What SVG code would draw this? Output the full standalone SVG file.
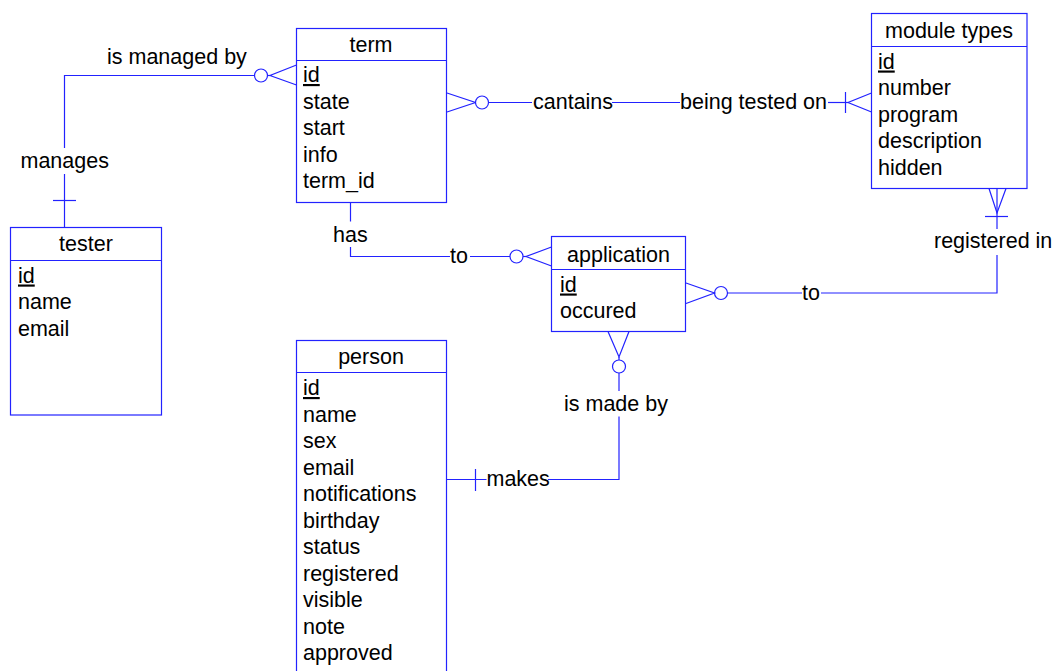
<svg xmlns="http://www.w3.org/2000/svg" width="1054" height="671" viewBox="0 0 1054 671">
  <style>
    .box { fill: #ffffff; stroke: #2222ff; stroke-width: 1.2; }
    .sep { stroke: #2222ff; stroke-width: 1.2; fill: none; }
    .ln { stroke: #2222ff; stroke-width: 1.2; fill: none; }
    .ring { stroke: #2222ff; stroke-width: 1.2; fill: #ffffff; }
    text { font-family: "Liberation Sans", Arial, sans-serif; font-size: 21.5px; fill: #000000; }
    .title { text-anchor: middle; }
    .key { text-decoration: underline; }
  </style>
  <rect width="1054" height="671" fill="#ffffff"/>

  <!-- relationship lines -->
  <g id="connectors">
    <!-- tester / term -->
    <polyline class="ln" points="64.5,148 64.5,75.5 254.5,75.5"/>
    <line class="ln" x1="64.5" y1="174" x2="64.5" y2="227.5"/>
    <line class="ln" x1="53" y1="200.5" x2="76" y2="200.5"/>
    <circle class="ring" cx="261" cy="75.5" r="6.5"/>
    <line class="ln" x1="267.5" y1="75.5" x2="270" y2="75.5"/>
    <polyline class="ln" points="296.5,65 270,75.5 296.5,85"/>
    <text x="107" y="63.5">is managed by</text>
    <text x="20.5" y="168">manages</text>

    <!-- term / module types -->
    <polyline class="ln" points="447,93 475.5,102.5 447,112"/>
    <circle class="ring" cx="482" cy="102.5" r="6.5"/>
    <line class="ln" x1="488.5" y1="102.5" x2="532" y2="102.5"/>
    <line class="ln" x1="612" y1="102.5" x2="680" y2="102.5"/>
    <line class="ln" x1="828" y1="102.5" x2="848" y2="102.5"/>
    <line class="ln" x1="845.5" y1="92" x2="845.5" y2="113"/>
    <polyline class="ln" points="871.5,93 848,102.5 871.5,112"/>
    <text x="533" y="108.5">cantains</text>
    <text x="680" y="108.5">being tested on</text>

    <!-- term / application -->
    <line class="ln" x1="350.5" y1="202.5" x2="350.5" y2="221.5"/>
    <polyline class="ln" points="350.5,247 350.5,256.5 450,256.5"/>
    <line class="ln" x1="470" y1="256.5" x2="510" y2="256.5"/>
    <circle class="ring" cx="516.5" cy="256.5" r="6.5"/>
    <line class="ln" x1="523" y1="256.5" x2="526" y2="256.5"/>
    <polyline class="ln" points="551.5,247 526,256.5 551.5,266"/>
    <text x="333" y="241.5">has</text>
    <text x="450" y="263">to</text>

    <!-- application / module types -->
    <polyline class="ln" points="989,188.5 997,213 1006,188.5"/>
    <line class="ln" x1="997" y1="188.5" x2="997" y2="229"/>
    <line class="ln" x1="985" y1="216.5" x2="1008" y2="216.5"/>
    <polyline class="ln" points="997,255 997,293 821,293"/>
    <line class="ln" x1="802" y1="293" x2="727.5" y2="293"/>
    <circle class="ring" cx="721" cy="293" r="6.5"/>
    <polyline class="ln" points="686,283 714.5,293 686,303.5"/>
    <text x="934" y="248">registered in</text>
    <text x="802" y="299.5">to</text>

    <!-- application / person -->
    <polyline class="ln" points="608,331.5 619,357 629,331.5"/>
    <line class="ln" x1="619" y1="357" x2="619" y2="360"/>
    <circle class="ring" cx="619" cy="366.5" r="6.5"/>
    <line class="ln" x1="619" y1="373" x2="619" y2="391"/>
    <polyline class="ln" points="619,416.5 619,479.5 548,479.5"/>
    <line class="ln" x1="486.5" y1="479.5" x2="446.5" y2="479.5"/>
    <line class="ln" x1="475.5" y1="469" x2="475.5" y2="491"/>
    <text x="564" y="410.5">is made by</text>
    <text x="486.5" y="485.5">makes</text>
  </g>

  <!-- entities -->
  <g id="term">
    <rect class="box" x="296.5" y="28.5" width="150" height="174"/>
    <line class="sep" x1="296.5" y1="60.5" x2="446.5" y2="60.5"/>
    <text class="title" x="371" y="52">term</text>
    <text class="key" x="303" y="82">id</text>
    <text x="303" y="108.5">state</text>
    <text x="303" y="135">start</text>
    <text x="303" y="161.5">info</text>
    <text x="303" y="188">term_id</text>
  </g>

  <g id="tester">
    <rect class="box" x="10.5" y="227.5" width="151" height="187.5"/>
    <line class="sep" x1="10.5" y1="260.5" x2="161.5" y2="260.5"/>
    <text class="title" x="86" y="251">tester</text>
    <text class="key" x="18" y="282.5">id</text>
    <text x="18" y="309">name</text>
    <text x="18" y="335.5">email</text>
  </g>

  <g id="module-types">
    <rect class="box" x="871.5" y="13.5" width="155.5" height="175"/>
    <line class="sep" x1="871.5" y1="46.5" x2="1027" y2="46.5"/>
    <text class="title" x="949" y="37.5">module types</text>
    <text class="key" x="878" y="68.5">id</text>
    <text x="878" y="95">number</text>
    <text x="878" y="121.5">program</text>
    <text x="878" y="148">description</text>
    <text x="878" y="174.5">hidden</text>
  </g>

  <g id="application">
    <rect class="box" x="551.5" y="236.5" width="134" height="95"/>
    <line class="sep" x1="551.5" y1="269.5" x2="685.5" y2="269.5"/>
    <text class="title" x="618.5" y="262">application</text>
    <text class="key" x="560" y="291.5">id</text>
    <text x="560" y="318">occured</text>
  </g>

  <g id="person">
    <rect class="box" x="296.5" y="340.5" width="150" height="345"/>
    <line class="sep" x1="296.5" y1="372.5" x2="446.5" y2="372.5"/>
    <text class="title" x="371" y="364">person</text>
    <text class="key" x="303" y="395">id</text>
    <text x="303" y="421.5">name</text>
    <text x="303" y="448">sex</text>
    <text x="303" y="474.5">email</text>
    <text x="303" y="501">notifications</text>
    <text x="303" y="527.5">birthday</text>
    <text x="303" y="554">status</text>
    <text x="303" y="580.5">registered</text>
    <text x="303" y="607">visible</text>
    <text x="303" y="633.5">note</text>
    <text x="303" y="660">approved</text>
  </g>
</svg>
